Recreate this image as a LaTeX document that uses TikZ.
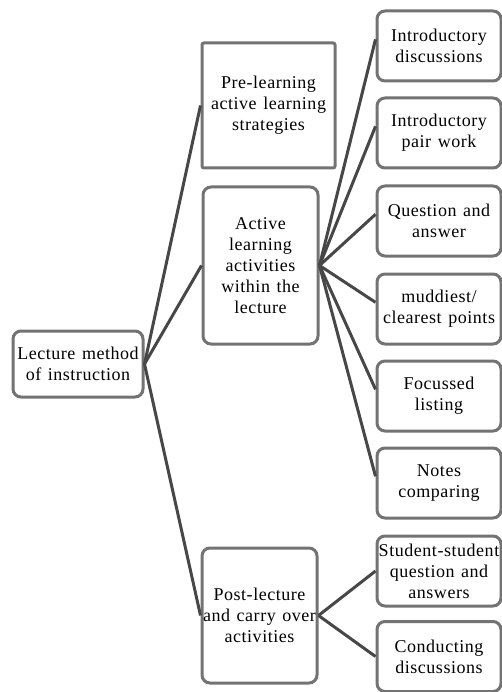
\documentclass[tikz,border=0pt]{standalone}
\usepackage{fontspec}
\setmainfont[LetterSpace=3,WordSpace=1.3]{Liberation Serif}
\usetikzlibrary{positioning}

\begin{document}
\begin{tikzpicture}[x=1pt,y=-1pt,
box/.style = {draw=black!55,line width=3pt,rounded corners=8pt,fill=white,
              align=center,inner sep=1pt,font=\fontsize{18}{21}\selectfont},
leaf/.style = {box,minimum width=124pt,minimum height=70pt},
link/.style = {draw=black!72,line width=3pt}
                        ]
\useasboundingbox (0,0) rectangle (502,692);

\node (root) [box,minimum width=130pt,minimum height=66pt] at (78,364) {Lecture method\\of instruction};

%
\node (pre)  [box,rounded corners=2pt,minimum width=133pt,minimum height=125pt] at (268.5,105.5)
             {Pre-learning\\active learning\\strategies};
\node (act)  [box,minimum width=115pt,minimum height=157pt] at (260.5,265.5)
             {Active\\learning\\activities\\within the\\lecture};
\node (post) [box,minimum width=115pt,minimum height=135pt] at (259.5,615.5)
             {Post-lecture\\and carry over\\activities};

%
\foreach \t/\y [count=\i from 1] in {{Introductory\\discussions}/46,
                                    {Introductory\\pair work}/133,
                                    {Question and\\answer}/221,
                                    {muddiest/\\clearest points}/309,
                                    {Focussed\\listing}/396,
                                    {Notes\\comparing}/483,
                                    {Student-student\\question and\\answers}/571,
                                    {Conducting\\discussions}/656.5}
    \node (r\i) [leaf] at (439,\y) {\t};

%
\foreach \n in {pre,act,post}
    \draw[link] (root.east) -- (\n.west);

\foreach \i in {1,...,6}
    \draw[link] (act.east) -- (r\i.174);

\foreach \i in {7,8}
    \draw[link] (post.east) -- (r\i.west);
\end{tikzpicture}
\end{document}
